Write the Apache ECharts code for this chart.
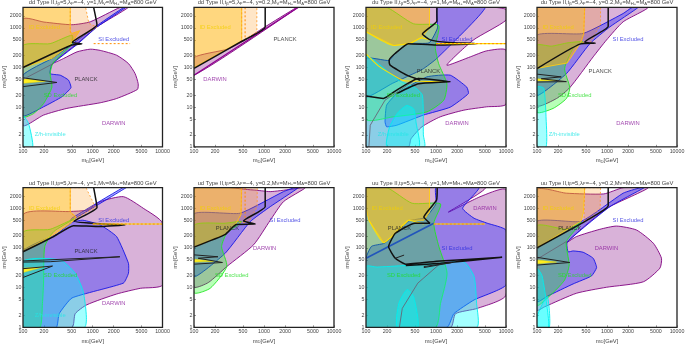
<!DOCTYPE html>
<html><head><meta charset="utf-8">
<style>html,body{margin:0;padding:0;background:#fff}#c{width:685px;height:345px}</style>
<script src="https://cdn.jsdelivr.net/npm/echarts@6/dist/echarts.min.js"></script>
</head><body><div id="c"></div>
<script>
const xTicks=[100,200,500,1000,2000,5000,10000];
const yTicks=[1,2,5,10,20,50,100,200,500,1000,2000];
const couplings=['dd','dd','du','du','ud','ud','uu','uu'];
const yukawas=['1','0.2','1','0.2','1','0.2','1','0.2'];

// ---- panel 1: dd, y=1
const d1Darwin=[[100,3.5],[197,6.3],[425,9.3],[1280,12.9],[2200,16.5],[4370,28],[4480,39],[4050,70],[3250,126],[2200,204],[1280,270],[920,290],[595,248],[380,168],[265,128],[595,400],[1150,1060],[3250,3300],[2490,3300],[920,1420],[500,1200],[200,1400],[100,1650]];
const d1SI=[[100,6],[197,10.2],[360,18.2],[487,31],[450,48],[342,64],[245,70],[260,120],[595,380],[1150,1050],[3000,3300],[2800,3300],[1200,1200],[595,480],[260,170],[100,64]];
const d1SD=[[100,352],[245,400],[505,653],[505,390],[270,130],[245,70],[260,32],[197,12.3],[142,6.9],[100,5.7]];
const d1ZH=[[100,6],[120,3.9],[138,1],[100,1]];
const d1ID=[[100,3300],[476,3300],[476,830],[500,720],[650,850],[505,420],[400,300],[260,170],[100,100]];
const d1IDw=[[476,3300],[790,3300],[880,1300],[1150,1050],[650,560],[505,420],[476,830]];
const d1Planck=[[1030,3300],[1150,1200],[510,430],[700,395],[500,370],[100,100]];
const d1Res=[[100,55],[306,42],[100,33]];
const d1Yel=[[100,52],[210,45],[100,40]];
const d1Gray=[[100,50],[270,125]];
const d1Dash=[[1030,400],[3430,400]];
const d1Labels=[['ID Excluded',202,1000],['SI Excluded',2000,500],['PLANCK',800,50],['SD Excluded',345,20],['DARWIN',2000,4],['Z/h-invisible',245,2]];
// ---- panel 2: dd, y=0.2
const d2Darwin=[[100,64],[3100,3300],[2950,3300],[1000,1020],[480,440],[300,290],[100,178]];
const d2ID=[[100,3300],[480,3300],[480,470],[100,100]];
const d2IDw=[[480,3300],[790,3300],[790,780],[480,470]];
const d2Dash=[[537,3300],[537,520]];
const d2Planck=[[1040,3300],[1040,1050],[450,430],[100,95]];
const d2Labels=[['ID Excluded',200,1000],['PLANCK',2000,500],['DARWIN',200,50]];
// ---- panel 3: du, y=1
const d3Darwin=[[404,1],[440,1.6],[630,3.2],[1150,5.7],[2500,8.4],[5300,10.2],[10000,11.9],[10000,273],[5300,263],[3100,186],[1430,115],[3400,490],[10000,1560],[10000,2900],[6500,3300],[100,3300],[100,1]];
const d3SIa=[[187,4.3],[197,11.2],[275,22],[740,58],[1600,64],[2750,32],[2900,22],[1600,10],[660,6.3],[275,3.5],[197,3.2]];
const d3SIb=[[1050,3300],[5050,3300],[1030,170],[640,90],[240,40],[100,18],[100,170],[214,150],[260,225],[404,400],[800,420],[1050,1000]];
const d3SD=[[197,3300],[476,1270],[1090,1150],[975,330],[1090,126],[1430,39],[1290,15],[740,7.6],[245,5.7],[100,5],[100,3300]];
const d3ZH=[[100,1],[680,1],[660,2],[640,20],[505,31],[300,46],[100,186]];
const d3ZHb=[[200,1],[215,3],[280,7],[380,11],[480,9],[520,4],[570,1]];
const d3ID=[[100,3300],[808,3300],[808,1000],[620,560],[420,400],[250,360],[100,800]];
const d3Yel=[[100,220],[150,110],[340,47],[600,45],[1300,43]];
const d3Yel2=[[100,800],[250,360],[420,400],[620,560],[808,500]];
const d3Planck=[[1030,3300],[1030,1500],[640,700],[850,490],[1500,430],[3800,400],[1000,370],[404,400],[260,225],[214,152],[221,115],[383,64],[595,48]];
const d3Res=[[100,19],[177,16.5],[275,27],[560,53],[1600,44],[560,39],[275,22]];
const d3Gray=[[110,1],[115,3.5],[187,15],[560,55]];
const d3Dash=[[1000,400],[10000,400]];
const d3Labels=[['ID Excluded',197,1000],['SI Excluded',2000,500],['PLANCK',780,80],['SD Excluded',340,20],['DARWIN',2000,4],['Z/h-invisible',245,2]];
// ---- panel 4: du, y=0.2
const d4Darwin=[[100,11],[190,16.5],[294,31],[635,186],[980,490],[1700,1420],[3800,3300],[100,3300]];
const d4SI=[[100,20],[263,70],[570,400],[1100,1060],[2800,3300],[2300,3300],[1700,2300],[455,720],[100,650]];
const d4SD=[[100,7.5],[170,9.3],[263,16.5],[294,31],[248,94],[328,300],[455,445],[278,420],[160,345],[100,360]];
const d4ZH=[[100,32],[125,30],[135,5],[135,1],[100,1]];
const d4ID=[[100,3300],[480,3300],[465,700],[420,420],[270,130],[100,95]];
const d4IDw=[[480,3300],[808,3300],[808,1200],[580,430],[420,420],[465,700]];
const d4Planck=[[1040,3300],[1040,1100],[480,440],[680,410],[420,395],[100,94]];
const d4Res=[[100,68],[222,58],[115,52],[263,44],[100,43]];
const d4Yel=[[100,52],[200,47],[100,46]];
const d4Labels=[['ID Excluded',200,1000],['SI Excluded',2000,500],['PLANCK',800,80],['SD Excluded',345,20],['DARWIN',2000,4],['Z/h-invisible',245,2]];
// ---- panel 5: ud, y=1
const d5Darwin=[[100,1],[505,1],[560,2.2],[825,3.7],[2200,6.9],[4800,9.6],[10000,11.7],[10000,420],[5300,1000],[2750,1960],[1280,1470],[820,900],[476,830],[100,680]];
const d5SI=[[100,1],[300,1],[330,2.2],[505,5.5],[2750,13],[3250,23],[3250,41],[2200,193],[1280,380],[720,500],[500,440],[300,220],[100,82]];
const d5SIb=[[480,480],[3000,3300],[2700,3300],[500,560]];
const d5SD=[[175,1],[190,4],[197,13],[205,108],[275,257],[560,560],[245,295],[100,245],[100,1]];
const d5ZH=[[100,45],[340,50],[560,23],[740,7.2],[760,1],[100,1]];
const d5ID=[[100,3300],[476,3300],[476,800],[580,600],[500,440],[280,220],[100,80]];
const d5IDw=[[476,3300],[800,3300],[1100,1050],[580,560],[476,800]];
const d5Planck=[[1030,3300],[1150,1050],[540,470],[1500,400],[2900,380],[1280,345],[530,365],[270,190],[100,80]];
const d5Res=[[100,47],[2450,60],[245,45],[100,44]];
const d5Res2=[[100,18],[265,35],[100,30]];
const d5Yel=[[100,31],[190,33],[100,24]];
const d5Dash=[[1000,400],[10000,400]];
const d5Labels=[['ID Excluded',202,1000],['SI Excluded',2000,500],['PLANCK',800,80],['SD Excluded',345,20],['DARWIN',2000,4],['Z/h-invisible',245,2]];
// ---- panel 6: ud, y=0.2
const d6Darwin=[[100,10.5],[160,13.4],[294,34],[710,120],[1230,500],[1900,1470],[3900,3300],[2400,3000],[1230,2630],[700,2900],[100,3000]];
const d6SI=[[100,19],[278,73],[635,460],[1230,1100],[3100,3300],[2700,3300],[1900,2630],[455,750],[100,720]];
const d6SD=[[100,7.5],[170,9.6],[294,34],[248,108],[294,234],[480,460],[280,420],[100,365]];
const d6ID=[[100,3300],[480,3300],[470,700],[400,420],[280,220],[100,105]];
const d6IDw=[[480,3300],[800,3300],[800,1100],[600,440],[420,440],[470,700]];
const d6Dash=[[537,3300],[537,470]];
const d6Planck=[[1040,3300],[1040,1100],[510,480],[750,400],[400,390],[280,220],[100,105]];
const d6Res=[[100,67],[220,60],[115,55],[255,43],[100,39]];
const d6Yel=[[100,52],[190,46],[100,44]];
const d6Labels=[['ID Excluded',200,1000],['SI Excluded',2000,500],['PLANCK',300,310],['SD Excluded',345,20],['DARWIN',1020,100]];
// ---- panel 7: uu, y=1
const d7Darwin=[[100,1],[1620,1],[1900,2.2],[3900,3],[10000,6.5],[10000,2900],[4400,2000],[1500,800],[5000,3300],[100,3300]];
const d7SI=[[100,1],[1440,1],[1800,2.2],[3500,4.9],[10000,11.7],[10000,280],[5400,420],[3500,560],[2400,1000],[4100,3300],[1000,3300],[1000,1300],[700,580],[408,480],[236,190],[180,130],[120,110],[100,55]];
const d7SD=[[200,3300],[455,1340],[1160,1290],[930,420],[1100,108],[1440,23],[1160,4],[980,1],[100,1],[100,3300]];
const d7ZH=[[100,34],[144,33],[1160,41],[2500,45],[3500,19],[3800,4],[3800,1],[100,1]];
const d7ZHb=[[278,1],[294,4],[387,9],[480,5.9],[550,1]];
const d7ID=[[100,3300],[808,3300],[808,800],[670,500],[408,500],[236,195],[180,135],[110,500],[100,1000]];
const d7Yel=[[110,500],[180,135],[236,195],[408,500],[670,400]];
const d7Planck=[[1040,3300],[1020,1620],[670,600],[820,420],[500,420],[263,234],[210,108],[262,55],[370,39],[1160,47],[8800,58],[1160,41],[370,36]];
const d7Res=[[670,34],[1700,43],[670,32]];
const d7Hook=[[262,55],[350,66]];
const d7Gray=[[100,55],[930,420]];
const d7Teal=[[300,1],[330,3],[550,13],[1160,41]];
const d7Dash=[[930,400],[5000,400]];
const d7Labels=[['ID Excluded',200,1000],['SI Excluded',2000,100],['PLANCK',300,310],['SD Excluded',345,20],['DARWIN',5000,1000]];
// ---- panel 8: uu, y=0.2
const d8Darwin=[[100,2.7],[129,3.3],[365,7.2],[980,10.2],[3300,14],[5700,31],[6000,55],[4600,131],[2640,283],[1370,356],[790,295],[365,193],[263,135],[535,420],[1100,1100],[3900,3300],[1700,3300],[900,2300],[263,2400],[100,2900]];
const d8SI=[[100,4.4],[144,6.2],[328,12.4],[600,19.7],[710,32],[635,55],[455,78],[328,84],[278,80],[270,140],[1100,1100],[3400,3300],[3000,3300],[1700,2400],[430,470],[100,460]];
const d8SD=[[100,3.6],[170,7.5],[248,15.6],[288,37],[263,145],[430,436],[263,295],[100,356]];
const d8ZH=[[100,30],[118,20],[140,3],[145,1],[100,1]];
const d8ZHb=[[100,1.9],[140,6],[150,1],[100,1]];
const d8ID=[[100,3300],[480,3300],[460,800],[430,480],[100,100]];
const d8IDw=[[480,3300],[808,3300],[800,1000],[600,600],[470,480]];
const d8Planck=[[1040,3300],[1040,1150],[480,460],[460,440],[100,100]];
const d8Res=[[100,58],[294,43],[100,37]];
const d8Yel=[[100,50],[190,44],[100,40]];
const d8Gray=[[100,52],[263,145]];
const d8Labels=[['ID Excluded',200,1000],['SI Excluded',2000,500],['PLANCK',294,310],['SD Excluded',345,20],['DARWIN',980,100]];

const panels=[
 {fills:[['darwin',d1Darwin],['si',d1SI],['sd',d1SD],['zh',d1ZH],['id',d1ID],['idw',d1IDw]],lines:[['planckT',d1Res],['gray',d1Gray],['planck',d1Planck],['dash',d1Dash]],yel:[d1Yel],labels:d1Labels},
 {fills:[['darwin',d2Darwin],['id',d2ID],['idw',d2IDw]],lines:[['darwinL',[[100,64],[3100,3300]]],['dash',d2Dash],['planck',d2Planck]],yel:[],labels:d2Labels},
 {fills:[['darwin',d3Darwin],['si',d3SIa],['si',d3SIb],['sd',d3SD],['zh',d3ZH],['zh',d3ZHb],['id',d3ID]],lines:[['gray',d3Gray],['yellow',d3Yel],['yellow',d3Yel2],['planck',d3Planck],['planck',d3Res],['yellow',d3Dash],['dash',d3Dash]],yel:[],labels:d3Labels},
 {fills:[['darwin',d4Darwin],['si',d4SI],['sd',d4SD],['zh',d4ZH],['id',d4ID],['idw',d4IDw]],lines:[['planck',d4Planck],['planckT',d4Res]],yel:[d4Yel],labels:d4Labels},
 {fills:[['darwin',d5Darwin],['si',d5SI],['si',d5SIb],['sd',d5SD],['zh',d5ZH],['id',d5ID],['idw',d5IDw]],lines:[['planck',d5Planck],['planckT',d5Res],['planckT',d5Res2],['yellow',d5Dash],['dash',d5Dash]],yel:[d5Yel],labels:d5Labels},
 {fills:[['darwin',d6Darwin],['si',d6SI],['sd',d6SD],['id',d6ID],['idw',d6IDw]],lines:[['dash',d6Dash],['planck',d6Planck],['planckT',d6Res]],yel:[d6Yel],labels:d6Labels},
 {fills:[['darwin',d7Darwin],['si',d7SI],['sd',d7SD],['zh',d7ZH],['zh',d7ZHb],['id',d7ID]],lines:[['gray',d7Teal],['blueT',d7Gray],['yellow',d7Yel],['planck',d7Planck],['planckT',d7Res],['planckT',d7Hook],['yellow',d7Dash],['dash',d7Dash]],yel:[],labels:d7Labels},
 {fills:[['darwin',d8Darwin],['si',d8SI],['sd',d8SD],['zh',d8ZH],['zh',d8ZHb],['id',d8ID],['idw',d8IDw]],lines:[['gray',d8Gray],['planck',d8Planck],['planckT',d8Res]],yel:[d8Yel],labels:d8Labels}
];

const fillStyles={
 darwin:{fill:'rgba(128,0,128,0.3)',stroke:'#800080',lw:0.9,smooth:0.2},
 si:{fill:'rgba(30,30,255,0.36)',stroke:'#1414e6',lw:0.9,smooth:0.15},
 sd:{fill:'rgba(0,255,0,0.28)',stroke:'#22e622',lw:0.9,smooth:0.2},
 zh:{fill:'rgba(0,255,255,0.36)',stroke:'#00eeee',lw:0.9,smooth:0.2},
 id:{fill:'rgba(255,175,0,0.5)',stroke:'#ffcc11',lw:0.9},
 idw:{fill:'rgba(255,140,0,0.22)',stroke:'#ff9922',lw:0.8,dash:[2,2]}
};
const lineStyles={
 planck:{color:'#111',width:1.5},planckT:{color:'#222',width:1},gray:{color:'#667',width:0.9},
 yellow:{color:'#ffe000',width:1.1},dash:{color:'#ff8c00',width:1,type:[2,2]},darwinL:{color:'#900090',width:1.3},
 blueT:{color:'#2255bb',width:1.6}
};
const labelColors={'ID':'#f2d000','SI':'#2a2ae0','PL':'#222','SD':'#22dd22','DA':'#8b1a9b','Z/':'#22e6e6'};

const lefts=[23,194,366,537], widths=[139.5,140,140,140];
const grid=[],xAxis=[],yAxis=[],series=[],title=[],graphic=[];
const sub={fontSize:4.2,fontWeight:'normal',verticalAlign:'bottom',lineHeight:6,fontFamily:'Liberation Sans',color:'#444',padding:[2,0,0,0]};
const norm={fontSize:5.8,fontWeight:'normal',fontFamily:'Liberation Sans',color:'#444'};
function polyItem(pts,st){
 return function(params,api){
  if(params.dataIndex!==0)return null;
  const s={fill:st.fill,stroke:st.stroke,lineWidth:st.lw};
  if(st.dash)s.lineDash=st.dash;
  const shape={points:pts.map(p=>api.coord(p))};
  if(st.smooth)shape.smooth=st.smooth;
  return {type:'polygon',shape,style:s};
 };
}
panels.forEach((p,i)=>{
 const c=i%4, top=i<4?7.3:187.7, h=i<4?139.5:139.6;
 const left=lefts[c], w=widths[c];
 grid.push({left,top,width:w,height:h,show:false,outerBoundsMode:'none',containLabel:false});
 xAxis.push({type:'log',gridIndex:i,min:100,max:10000,
  name:'{n|m}{s|D}{n|[GeV]}',nameLocation:'middle',nameGap:11,nameMoveOverlap:false,nameTextStyle:{rich:{n:norm,s:sub}},
  axisLine:{show:false},splitLine:{show:false},minorTick:{show:false},
  axisTick:{inside:true,length:2,lineStyle:{color:'#555',width:0.6},customValues:xTicks},
  axisLabel:{fontSize:5.3,margin:2,color:'#444',fontFamily:'Liberation Sans',customValues:xTicks,hideOverlap:false,showMinLabel:true,showMaxLabel:true,formatter:v=>String(Math.round(v))}});
 yAxis.push({type:'log',gridIndex:i,min:1,max:3300,
  name:'{n|m}{s|S}{n|[GeV]}',nameLocation:'middle',nameGap:16,nameRotate:90,nameMoveOverlap:false,nameTextStyle:{rich:{n:norm,s:sub}},
  axisLine:{show:false},splitLine:{show:false},minorTick:{show:false},
  axisTick:{inside:true,length:2,lineStyle:{color:'#555',width:0.6},customValues:yTicks},
  axisLabel:{fontSize:5.3,margin:1.5,color:'#444',fontFamily:'Liberation Sans',customValues:yTicks,hideOverlap:false,showMinLabel:true,formatter:v=>String(Math.round(v))}});
 title.push({text:'{n|'+couplings[i]+' Type II,t}{s|β}{n|=5,λ}{s|P}{n|=−4, y='+yukawas[i]+',M}{s|V}{n|=M}{s|H+}{n|=M}{s|A}{n|=800 GeV}',
  left:left+w/2,top:top-7.5,textAlign:'center',padding:0,textStyle:{fontWeight:'normal',rich:{n:norm,s:sub}}});
 p.fills.forEach(([k,pts])=>series.push({type:'custom',xAxisIndex:i,yAxisIndex:i,clip:true,silent:true,encode:{x:0,y:1},data:pts,renderItem:polyItem(pts,fillStyles[k]),z:2}));
 p.yel.forEach(pts=>series.push({type:'custom',xAxisIndex:i,yAxisIndex:i,clip:true,silent:true,encode:{x:0,y:1},data:pts,renderItem:polyItem(pts,{fill:'#ffee22',stroke:'#eedd00',lw:0.5}),z:3}));
 p.lines.forEach(([k,pts])=>series.push({type:'line',xAxisIndex:i,yAxisIndex:i,data:pts,showSymbol:false,silent:true,clip:true,smooth:(k==='planck'||k==='yellow')?0.15:false,lineStyle:lineStyles[k],z:4,animation:false}));
 series.push({type:'scatter',xAxisIndex:i,yAxisIndex:i,symbolSize:0,silent:true,z:6,
  data:p.labels.map(l=>({value:[l[1],l[2]],name:l[0],label:{color:labelColors[l[0].slice(0,2)]}})),
  label:{show:true,position:'inside',fontSize:5.8,fontFamily:'Liberation Sans',formatter:'{b}'}});
 graphic.push({type:'rect',z:100,silent:true,shape:{x:left,y:top,width:w,height:h},style:{fill:'none',stroke:'#222',lineWidth:1.3}});
});
const chart=echarts.init(document.getElementById('c'),null,{renderer:'canvas'});
chart.setOption({animation:false,backgroundColor:'#fff',grid,xAxis,yAxis,title,series,graphic});
</script></body></html>
